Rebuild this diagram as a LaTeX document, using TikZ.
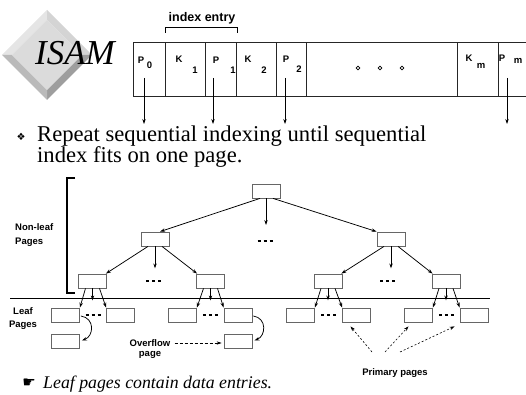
\documentclass[tikz,border=0pt]{standalone}
\usepackage{fontspec}
\setmainfont{Liberation Serif}
\setsansfont{Liberation Sans}
\newfontfamily\dejavu{DejaVu Sans}
\usetikzlibrary{arrows.meta,calc}
\tikzset{
  pg/.style={draw=black!60, fill=white, line width=0.8pt, minimum width=28pt, minimum height=14pt, inner sep=0pt},
  cell/.style={draw=black!85, line width=0.9pt, minimum height=54pt, inner sep=0pt, anchor=north west},
  arr/.style={-{Stealth[length=5pt,width=3.4pt]}, line width=0.75pt},
  lbl/.style={font=\sffamily\bfseries\fontsize{9.5}{10}\selectfont, inner sep=0pt},
  clbl/.style={font=\sffamily\bfseries\fontsize{9.5}{10}\selectfont, inner sep=0pt},
  dotsline/.style={dash pattern=on 3pt off 3pt, line width=1.3pt},
  dotarr/.style={-{Stealth[length=5pt,width=3.4pt]}, line width=0.6pt, dash pattern=on 2pt off 2pt},
  dasharr/.style={-{Stealth[length=5pt,width=3.4pt]}, line width=0.7pt, dash pattern=on 3pt off 2pt},
  smalldia/.style={draw, rotate=45, minimum size=2.6pt, inner sep=0pt, line width=0.6pt}
}
\begin{document}
\begin{tikzpicture}[x=1pt,y=-1pt]
\useasboundingbox (0,0) rectangle (526,395);
% ISAM logo
\fill[black!10] (47,10) -- (2,55) -- (12,55) -- (47,20) -- cycle;
\fill[black!17] (47,10) -- (92,55) -- (82,55) -- (47,20) -- cycle;
\fill[black!38] (92,55) -- (47,100) -- (47,90) -- (82,55) -- cycle;
\fill[black!27] (2,55) -- (47,100) -- (47,90) -- (12,55) -- cycle;
\fill[black!14] (47,20) -- (82,55) -- (47,90) -- (12,55) -- cycle;
\node[anchor=base west, inner sep=0pt, font=\itshape\fontsize{35}{35}\selectfont] (isam) at (35,65) {ISAM};
% index entry
\node[anchor=base, inner sep=0pt, font=\sffamily\bfseries\fontsize{12.5}{13}\selectfont] (ie) at (202,22) {index entry};
\draw[line width=0.8pt] (165,33) -- (165,27) -- (237,27) -- (237,33);
% index record cells
\node[cell, minimum width=32pt] (c0) at (133,42) {};
\node[cell, minimum width=40pt] (c1) at (165,42) {};
\node[cell, minimum width=31pt] (c2) at (205,42) {};
\node[cell, minimum width=40pt] (c3) at (236,42) {};
\node[cell, minimum width=30pt] (c4) at (276,42) {};
\node[cell, minimum width=151pt] (c5) at (306,42) {};
\node[cell, minimum width=41pt] (c6) at (457,42) {};
\node[cell, minimum width=27.5pt] (c7) at (498,42) {};
% cell labels
\node[clbl] (p0a) at (141,60) {P}; \node[clbl] (p0b) at (149.5,65) {0};
\node[clbl] (k1a) at (179,59) {K}; \node[clbl] (k1b) at (195,70) {1};
\node[clbl] (p1a) at (216,60) {P}; \node[clbl] (p1b) at (233,70) {1};
\node[clbl] (k2a) at (248,59) {K}; \node[clbl] (k2b) at (264,70) {2};
\node[clbl] (p2a) at (286,59) {P}; \node[clbl] (p2b) at (299,69) {2};
\node[clbl] (kma) at (469,58) {K}; \node[clbl] (kmb) at (481,66) {m};
\node[clbl] (pma) at (502,58) {P}; \node[clbl] (pmb) at (518,61) {m};
\node[smalldia] (d1) at (358,68) {};
\node[smalldia] (d2) at (380,68) {};
\node[smalldia] (d3) at (402,68) {};
% pointer arrows
\coordinate (a0s) at (144,78); \coordinate (a0e) at (144,124);
\coordinate (a1s) at (213,78); \coordinate (a1e) at (213,124);
\coordinate (a2s) at (285,78); \coordinate (a2e) at (285,124);
\coordinate (a3s) at (507,78); \coordinate (a3e) at (507,124);
\draw[arr] (a0s) -- (a0e);
\draw[arr] (a1s) -- (a1e);
\draw[arr] (a2s) -- (a2e);
\draw[arr] (a3s) -- (a3e);
% bullet text
\node[inner sep=0pt, font=\dejavu\fontsize{10}{10}\selectfont] (bul) at (21,137) {❖};
\node[anchor=base west, inner sep=0pt, font=\fontsize{22.6}{22.6}\selectfont] (t1) at (37,142) {Repeat sequential indexing until sequential};
\node[anchor=base west, inner sep=0pt, font=\fontsize{22.6}{22.6}\selectfont] (t2) at (37,163) {index fits on one page.};
% non-leaf bracket and labels
\draw[line width=1.5pt] (75,178) -- (67,178) -- (67,293) -- (75,293);
\node[lbl, anchor=west] (nl1) at (15,227) {Non-leaf};
\node[lbl, anchor=west] (nl2) at (15,242) {Pages};
\node[lbl] (lf1) at (23,311) {Leaf};
\node[lbl] (lf2) at (23,325) {Pages};
% separator line
\draw[line width=0.9pt] (10,298) -- (490,298);
% tree nodes
\node[pg] (root) at (266,191) {};
\node[pg] (L2a) at (155,239) {};
\node[pg] (L2b) at (391,239) {};
\node[pg] (L3a) at (92.5,281) {};
\node[pg] (L3b) at (210.5,281) {};
\node[pg] (L3c) at (328,281) {};
\node[pg] (L3d) at (446,281) {};
\node[pg] (a1) at (65.5,315) {};
\node[pg] (a2) at (120.5,315) {};
\node[pg] (b1) at (182.5,315) {};
\node[pg] (b2) at (238,315) {};
\node[pg] (c1) at (300.5,315) {};
\node[pg] (c2) at (356.5,315) {};
\node[pg] (e1) at (418.5,315) {};
\node[pg] (e2) at (474,315) {};
\node[pg] (oa) at (65.5,341.5) {};
\node[pg] (ob) at (238,341.5) {};
% tree arrows
\coordinate (rd) at (266,225);
\draw[arr] ($(root.south)+(-6,0)$) -- ($(L2a.north)+(5,0)$);
\draw[arr] (root.south) -- (rd);
\draw[arr] ($(root.south)+(7,0)$) -- (L2b.north west);
\draw[dotsline] (257.5,241) -- (272.5,241);
\foreach \p/\l/\r in {L2a/L3a/L3b, L2b/L3c/L3d}{
  \draw[arr] ($(\p.south)+(-7,0)$) -- ($(\l.north east)+(-1,0)$);
  \draw[arr] (\p.south) -- ($(\p.south)+(0,22)$);
  \draw[arr] ($(\p.south)+(7,0)$) -- ($(\r.north west)+(1,0)$);
}
\draw[dotsline] (146,281) -- (161,281);
\draw[dotsline] (380,281) -- (395,281);
\foreach \p/\l/\r in {L3a/a1/a2, L3b/b1/b2, L3c/c1/c2, L3d/e1/e2}{
  \draw[arr] ($(\p.south)+(-7,0)$) -- (\l.north east);
  \draw[arr] (\p.south) -- ($(\p.south)+(0,12)$);
  \draw[arr] ($(\p.south)+(7,0)$) -- (\r.north west);
  \draw[dotsline] ($(\l.east)!0.5!(\r.west)+(-7.5,0)$) -- ($(\l.east)!0.5!(\r.west)+(7.5,0)$);
}
% overflow arrows
\draw[arr] ($(a1.east)+(1,1)$) .. controls (95,318) and (94,336) .. ($(oa.east)+(2,-1)$);
\draw[arr] ($(b2.east)+(1,1)$) .. controls (267,318) and (266,336) .. ($(ob.east)+(2,-1)$);
\node[lbl] (ovl) at (150,343) {Overflow};
\node[lbl] (ovp) at (150,355) {page};
\draw[dasharr] ($(ovl.east)+(4,0)$) -- ($(ob.west)+(-2,1.5)$);
% primary pages
\node[lbl] (pp) at (395,373) {Primary pages};
\coordinate (q1) at (372,352);
\coordinate (q2) at (385,352);
\coordinate (q3) at (400,352);
\draw[dotarr] (q1) -- ($(c2.south)+(-6,4)$);
\draw[dotarr] (q2) -- ($(e1.south)+(-10,4)$);
\draw[dotarr] (q3) -- ($(e2.south west)+(-5,4)$);
% bottom text
\node[inner sep=0pt, font=\dejavu\fontsize{15}{15}\selectfont] (hand) at (29,383) {☛};
\node[anchor=base west, inner sep=0pt, font=\itshape\fontsize{17.8}{17.8}\selectfont] (bt) at (43,388) {Leaf pages contain data entries.};
\end{tikzpicture}
\end{document}
